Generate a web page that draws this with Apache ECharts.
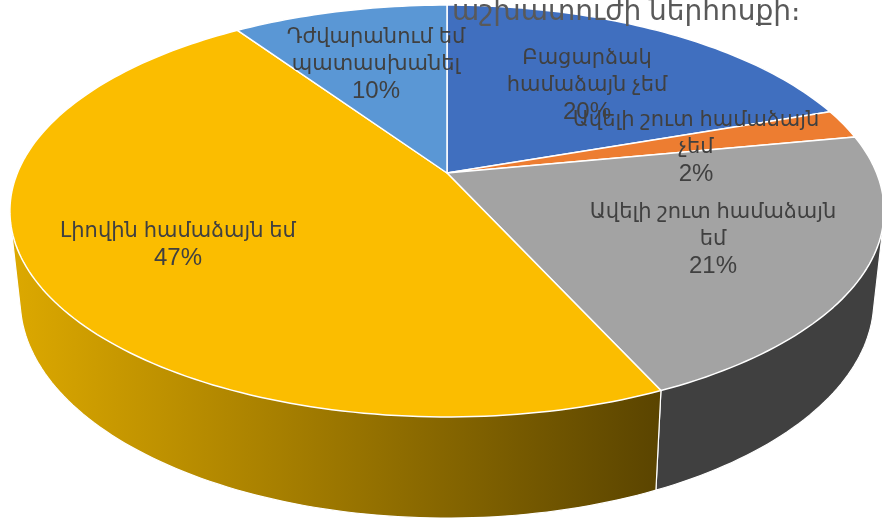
<!DOCTYPE html>
<html>
<head>
<meta charset="utf-8">
<style>
  html, body { margin: 0; padding: 0; background: #fff; }
  #chart { width: 882px; height: 521px; }
</style>
<script src="https://cdn.jsdelivr.net/npm/echarts@6/dist/echarts.min.js"></script>
</head>
<body>
<div id="chart"></div>
<script>
var titleText = 'աշխատուժի ներհոսքի։';
var categories = [
  ['Բացարձակ', 'համաձայն չեմ'],
  ['Ավելի շուտ համաձայն', 'չեմ'],
  ['Ավելի շուտ համաձայն', 'եմ'],
  ['Լիովին համաձայն եմ'],
  ['Դժվարանում եմ', 'պատասխանել']
];
var values = [19.7, 2.3, 21.2, 47.3, 9.5];

var topColors = ['#406FBF', '#ED7D31', '#A3A3A3', '#FBBD00', '#5A97D5'];
var FONT = '"Liberation Sans", "Noto Sans", "DejaVu Sans", sans-serif';
var labelSpots = [[587, 44], [696, 106], [713, 198], [178, 217], [376, 23]];

// the picture is a 3d pie in perspective, so a circle is mapped to the screen by hand
var centerX = 447;
var tilt = -0.1845;
var topDisc = { r: 429.6, a: 167, b: 173 };
var bottomDisc = { r: 419.5, a: 162.7, b: 259.8 };

var total = values.reduce(function (s, v) { return s + v; }, 0);
var starts = [];
values.reduce(function (s, v, i) { starts[i] = s; return s + v; }, 0);

function project(frac, disc) {
  var ang = frac * Math.PI * 2;
  var u = Math.sin(ang), v = -Math.cos(ang);
  var den = 1 + tilt * v;
  return [centerX + disc.r * u / den, (disc.a * v + disc.b) / den];
}

function rim(i, disc) {
  var from = starts[i] / total, to = (starts[i] + values[i]) / total;
  var n = Math.max(8, Math.ceil(values[i] * 3));
  var pts = [];
  for (var k = 0; k <= n; k++) {
    pts.push(project(from + (to - from) * k / n, disc));
  }
  return pts;
}

function hull(points) {
  var pts = points.slice().sort(function (p, q) { return p[0] - q[0] || p[1] - q[1]; });
  function cross(o, p, q) {
    return (p[0] - o[0]) * (q[1] - o[1]) - (p[1] - o[1]) * (q[0] - o[0]);
  }
  function half(list) {
    var out = [];
    list.forEach(function (p) {
      while (out.length > 1 && cross(out[out.length - 2], out[out.length - 1], p) <= 0) out.pop();
      out.push(p);
    });
    out.pop();
    return out;
  }
  return half(pts).concat(half(pts.slice().reverse()));
}

function wallFill(i) {
  if (i === 3) {
    return new echarts.graphic.LinearGradient(0, 0, 1, 0, [
      { offset: 0, color: '#DDA900' },
      { offset: 1, color: '#5A4400' }
    ]);
  }
  return i === 2 ? '#404040' : '#7F7F7F';
}

var chart = echarts.init(document.getElementById('chart'));
chart.setOption({
  animation: false,
  backgroundColor: '#fff',
  title: {
    text: titleText,
    left: 447,
    top: -7,
    textStyle: { color: '#595959', fontFamily: FONT, fontWeight: 'normal', fontSize: 28 },
    z: 20
  },
  series: [
    {
      type: 'custom',
      coordinateSystem: 'none',
      silent: true,
      z: 1,
      data: values,
      renderItem: function (params) {
        var i = params.dataIndex;
        return {
          type: 'polygon',
          shape: { points: hull(rim(i, topDisc).concat(rim(i, bottomDisc))) },
          style: { fill: wallFill(i), stroke: '#fff', lineWidth: 1.2 }
        };
      }
    },
    {
      type: 'custom',
      coordinateSystem: 'none',
      silent: true,
      z: 2,
      data: values,
      renderItem: function (params) {
        var i = params.dataIndex;
        return {
          type: 'polygon',
          shape: { points: [[centerX, topDisc.b]].concat(rim(i, topDisc)) },
          style: { fill: topColors[i], stroke: '#fff', lineWidth: 1.5, lineJoin: 'round' }
        };
      }
    },
    {
      type: 'custom',
      coordinateSystem: 'none',
      silent: true,
      z: 3,
      data: values,
      renderItem: function (params, api) {
        var i = params.dataIndex;
        var lines = categories[i].map(function (t) { return '{n|' + t + '}'; });
        lines.push('{p|' + Math.round(api.value(0)) + '%}');
        return {
          type: 'text',
          x: labelSpots[i][0],
          y: labelSpots[i][1],
          style: {
            text: lines.join('\n'),
            fontFamily: FONT,
            fill: '#404040',
            align: 'center',
            verticalAlign: 'top',
            rich: {
              n: { fontFamily: FONT, fontSize: 21, lineHeight: 27.5, fill: '#404040' },
              p: { fontFamily: FONT, fontSize: 24, lineHeight: 27.5, fill: '#404040' }
            }
          }
        };
      }
    }
  ]
});
</script>
</body>
</html>
